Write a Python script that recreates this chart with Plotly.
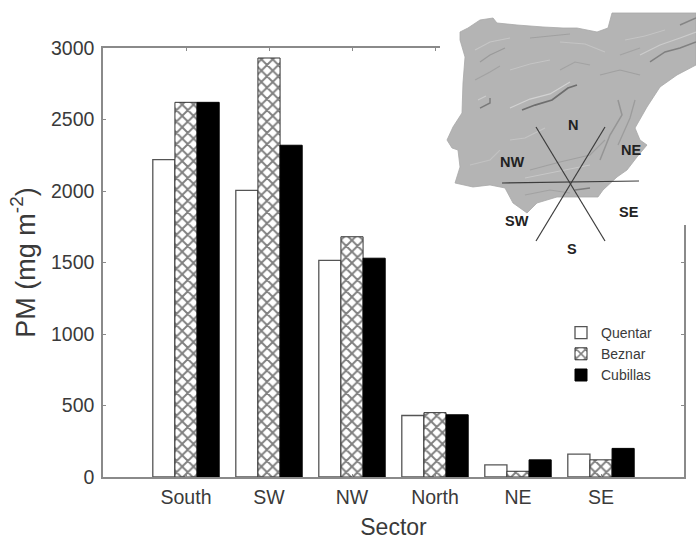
import plotly.graph_objects as go

sectors = ["South", "SW", "NW", "North", "NE", "SE"]
quentar = [2220, 2005, 1515, 430, 85, 160]
beznar = [2620, 2930, 1680, 450, 40, 120]
cubillas = [2620, 2320, 1530, 435, 120, 200]
y_ticks = [0, 500, 1000, 1500, 2000, 2500, 3000]

W, H = 696, 540
L, R, T, B = 103, 684, 48, 477
INK = "#3a3a3a"
AXIS = "#8a8a8a"


def px(x):
    return (x - L) / (R - L)


def py(y):
    return (B - y) / (B - T)


# Outline of the inset relief map, in reference pixels
map_outline = [
    (460, 32), (468, 28), (480, 20), (493, 18), (497, 23), (517, 25), (543, 27), (563, 28), (577, 28),
    (597, 32), (608, 28), (612, 13), (696, 13), (696, 65), (677, 75), (660, 87), (647, 107),
    (635, 128), (640, 140), (647, 145), (637, 157), (627, 170), (617, 177), (603, 190),
    (598, 197), (577, 197), (557, 197), (537, 203), (527, 213), (513, 203), (505, 188),
    (490, 185), (473, 187), (455, 183), (460, 167), (458, 150), (452, 148), (447, 140),
    (453, 127), (462, 113), (463, 83), (465, 57), (460, 40),
]
# Relief strokes on the map: (colour, width, points)
relief = [
    ("#6e6e6e", 1.8, [(522, 110), (535, 105), (552, 100), (568, 88), (577, 85)]),
    ("#d2d2d2", 1.3, [(510, 108), (530, 99), (550, 94), (570, 82)]),
    ("#7a7a7a", 1.4, [(480, 108), (490, 103), (490, 98)]),
    ("#cccccc", 1.1, [(478, 100), (486, 96)]),
    ("#808080", 1.5, [(650, 62), (665, 52), (680, 48), (696, 42)]),
    ("#cccccc", 1.2, [(640, 55), (660, 45), (680, 38), (696, 32)]),
    ("#858585", 1.4, [(680, 25), (696, 18)]),
    ("#9a9a9a", 1.3, [(480, 62), (490, 55), (505, 48)]),
    ("#c6c6c6", 1.1, [(475, 50), (490, 42), (510, 38)]),
    ("#a0a0a0", 1.2, [(530, 38), (550, 36), (570, 34)]),
    ("#c4c4c4", 1.1, [(560, 42), (585, 44), (605, 52)]),
    ("#a0a0a0", 1.2, [(600, 75), (620, 70), (640, 75)]),
    ("#959595", 1.5, [(618, 100), (622, 115), (610, 135), (600, 160)]),
    ("#9c9c9c", 1.3, [(635, 100), (630, 118), (618, 145)]),
    ("#c4c4c4", 1.1, [(545, 128), (525, 138), (510, 140)]),
    ("#a0a0a0", 1.2, [(530, 170), (560, 162), (590, 155), (605, 140)]),
    ("#c8c8c8", 1.0, [(525, 178), (555, 172), (590, 165)]),
    ("#7c7c7c", 1.4, [(575, 190), (590, 188)]),
    ("#a2a2a2", 1.1, [(525, 195), (550, 190), (570, 193)]),
    ("#c2c2c2", 1.1, [(470, 165), (490, 160), (500, 150)]),
    ("#a2a2a2", 1.1, [(475, 80), (490, 72), (500, 66)]),
    ("#c5c5c5", 1.0, [(510, 70), (530, 64), (550, 60)]),
    ("#a2a2a2", 1.1, [(560, 70), (575, 62), (590, 65)]),
    ("#c5c5c5", 1.0, [(625, 40), (645, 36), (665, 30)]),
    ("#a2a2a2", 1.1, [(620, 55), (640, 48)]),
]
sector_lines = [
    [(536, 127), (605, 241)],
    [(605, 127), (536, 241)],
    [(502, 183), (639, 181)],
]
map_labels = [
    ("N", 573, 125), ("NE", 631, 150), ("NW", 512, 162),
    ("SW", 517, 221), ("SE", 629, 212), ("S", 572, 249),
]

fig = go.Figure()
styles = [
    ("Quentar", quentar, dict(color="white", line=dict(color="#555555", width=1.3))),
    ("Beznar", beznar, dict(color="white", line=dict(color="#333333", width=1),
                            pattern=dict(shape="x", fgcolor="#000000", bgcolor="white",
                                         size=8, solidity=0.42))),
    ("Cubillas", cubillas, dict(color="black", line=dict(color="black", width=1))),
]
for name, values, marker in styles:
    fig.add_trace(go.Bar(name=name, x=list(range(len(sectors))), y=values, marker=marker))

shapes = [
    # white panel hiding the frame behind the map
    dict(type="rect", xref="paper", yref="paper", x0=px(440), x1=px(696), y0=py(0), y1=py(225),
         fillcolor="white", line_width=0, layer="above"),
    dict(type="path", xref="paper", yref="paper", layer="above",
         path="M" + "L".join(f"{px(a):.4f},{py(b):.4f}" for a, b in map_outline) + "Z",
         fillcolor="#b4b4b4", line=dict(color="#a8a8a8", width=0.8)),
]
for color, width, pts in relief:
    shapes.append(dict(type="path", xref="paper", yref="paper", layer="above",
                       path="M" + "L".join(f"{px(a):.4f},{py(b):.4f}" for a, b in pts),
                       line=dict(color=color, width=width)))
for (a, b) in sector_lines:
    shapes.append(dict(type="line", xref="paper", yref="paper", layer="above",
                       x0=px(a[0]), y0=py(a[1]), x1=px(b[0]), y1=py(b[1]),
                       line=dict(color="#3c3c3c", width=1.2)))

annotations = [
    dict(text=f"<b>{t}</b>", xref="paper", yref="paper", x=px(a), y=py(b), showarrow=False,
         xanchor="center", yanchor="middle",
         font=dict(family="Liberation Sans", size=14.5, color="#222222"))
    for t, a, b in map_labels
]

fig.update_layout(
    width=W, height=H,
    margin=dict(l=L, r=W - R, t=T, b=H - B, pad=0),
    paper_bgcolor="white", plot_bgcolor="white",
    barmode="group", bargap=0.2, bargroupgap=0,
    font=dict(family="Liberation Sans", color=INK),
    shapes=shapes, annotations=annotations,
    legend=dict(x=px(561), y=py(317), xanchor="left", yanchor="top", bgcolor="rgba(0,0,0,0)",
                font=dict(size=14, color=INK), tracegroupgap=0, itemwidth=30),
    xaxis=dict(range=[-1, 6], tickmode="array", tickvals=list(range(len(sectors))), automargin=False,
               ticktext=sectors, ticks="inside", ticklen=3, tickcolor=AXIS, ticklabelstandoff=2,
               showline=True, linecolor=AXIS, linewidth=1.5, mirror="ticks", showgrid=False,
               zeroline=False, tickfont=dict(size=19.5, color=INK),
               title=dict(text="Sector", font=dict(size=23, color=INK), standoff=18)),
    yaxis=dict(range=[0, 3000], tickmode="array", tickvals=y_ticks, ticks="inside", ticklen=3, automargin=False,
               tickcolor=AXIS, ticklabelstandoff=3, showline=True, linecolor=AXIS, linewidth=1.5,
               mirror="ticks", showgrid=False, zeroline=False, tickfont=dict(size=19.5, color=INK),
               title=dict(text="PM (mg m<sup>-2</sup>)", font=dict(size=27, color=INK), standoff=8)),
)
fig.write_html("out.html", post_script="document.body.style.margin='0';",
               config=dict(displayModeBar=False))
